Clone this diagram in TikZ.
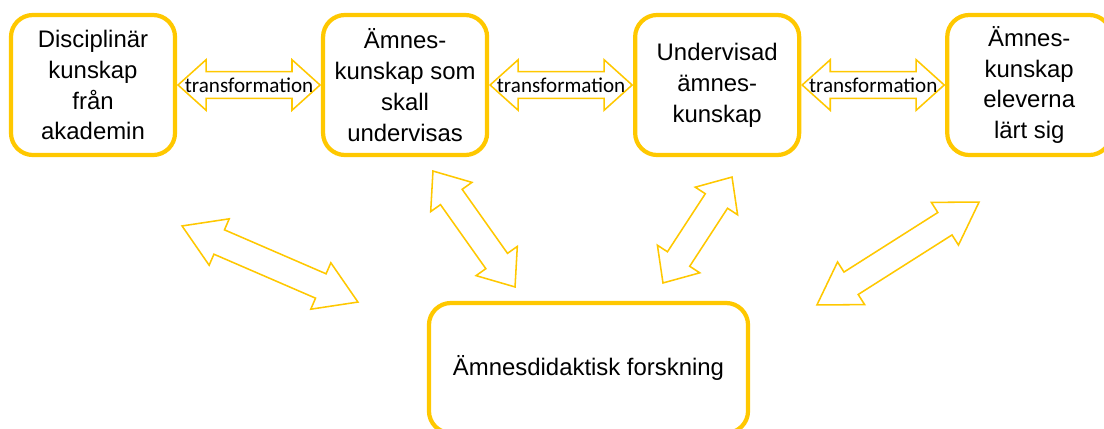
\documentclass[tikz,border=0pt]{standalone}
\usepackage{fontspec}
\setmainfont{Liberation Sans}
\newfontfamily\trfont{Carlito}
\usetikzlibrary{shapes.arrows,calc}
\definecolor{gul}{RGB}{255,200,0}

\begin{document}
\begin{tikzpicture}[x=0.025cm, y=-0.025cm, node distance = 7.8cm,
  box/.style={draw=gul, line width=3pt, rounded corners=0.55cm, fill=white,
    minimum width=4.1cm, minimum height=3.5cm, align=center,
    font=\fontsize{17}{22}\selectfont},
  dpil/.style={double arrow, draw=gul, line width=1.1pt, fill=white,
    text height=0.3125cm, text depth=0.3125cm, inner sep=0pt,
    minimum width=1.225cm, double arrow head extend=0.3cm},
  trans/.style={dpil, minimum height=3.55cm, double arrow tip angle=84,
    label={[font=\trfont\fontsize{15}{18}\selectfont]center:transformation}}]
  \clip (0,0) rectangle (1104,428);
  \node (DK) [box] at (93,85) {Disciplinär\\kunskap\\från\\akademin};
  \node (AS) [box, right of=DK] {Ämnes-\\kunskap som\\skall\\undervisas};
  \node (UA) [box, right of=AS] {Undervisad\\ämnes-\\kunskap};
  \node (AL) [box, right of=UA] {Ämnes-\\kunskap\\eleverna\\lärt sig};
  \node (AF) [box, minimum width=7.975cm, minimum height=3.25cm] at (588.5,368) {Ämnesdidaktisk forskning};
  % transformation mellan rutorna
  \node (T1) [trans] at ($(DK.east)!0.5!(AS.west)$) {};
  \node (T2) [trans] at ($(AS.east)!0.5!(UA.west)$) {};
  \node (T3) [trans] at ($(UA.east)!0.5!(AL.west)$) {};
  % pilar mot forskningen
  \node (P1) [dpil, minimum height=4.79cm, double arrow tip angle=64, rotate=-23.4] at (270,264) {};
  \node (P2) [dpil, minimum height=3.55cm, double arrow tip angle=77, rotate=-54.7] at (474,229) {};
  \node (P3) [dpil, minimum height=3.16cm, double arrow tip angle=83, rotate=56.9] at (697.5,230) {};
  \node (P4) [dpil, minimum height=4.8cm, double arrow tip angle=64, rotate=32.4] at (898,253.5) {};
\end{tikzpicture}
\end{document}
